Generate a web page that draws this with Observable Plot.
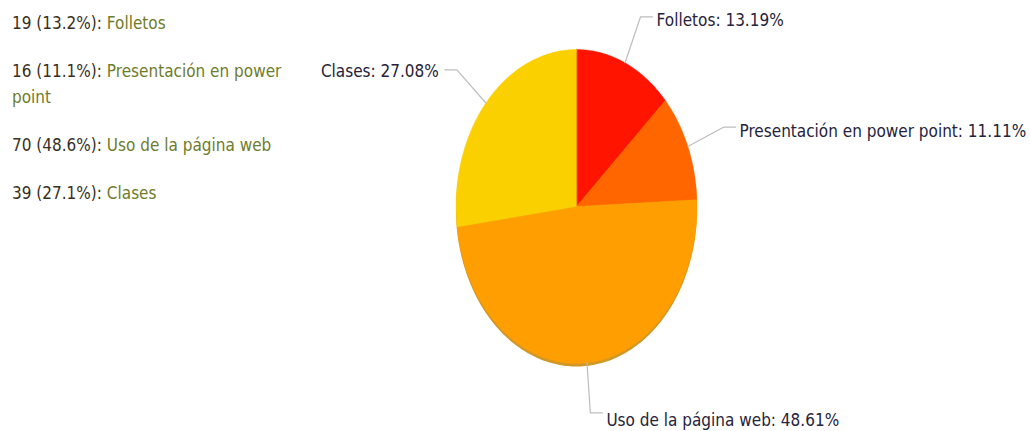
<!DOCTYPE html>
<html><head><meta charset="utf-8">
<script src="https://cdn.jsdelivr.net/npm/d3@7"></script>
<script src="https://cdn.jsdelivr.net/npm/@observablehq/plot@0.6"></script>
<style>
body{margin:0;background:#fff;}
#wrap{position:relative;width:1030px;height:431px;overflow:hidden;}
#legend{position:absolute;left:12px;top:10px;width:290px;font-family:"DejaVu Sans Condensed","DejaVu Sans",sans-serif;font-size:17px;line-height:26px;}
.item{margin-bottom:22px;}
.num{color:#3a2f1c;}
.name{color:#6f7c2a;}
</style></head><body>
<div id="wrap"><div id="chart"></div><div id="legend"></div></div>
<script>
const categories = ["Folletos", "Presentación en power point", "Uso de la página web", "Clases"];
const counts = [19, 16, 70, 39];
const colors = ["#ff1400", "#ff6600", "#ff9e00", "#fbd000"];

const total = d3.sum(counts);
const pct2 = d3.format(".2f"), pct1 = d3.format(".1f");

// legend (HTML)
const legend = document.getElementById("legend");
categories.forEach((c, i) => {
  const div = document.createElement("div");
  div.className = "item";
  div.innerHTML = `<span class="num">${counts[i]} (${pct1(counts[i] / total * 100)}%):</span> <span class="name">${c}</span>`;
  legend.appendChild(div);
});

const arcs = d3.pie().sort(null)(counts);
const slicePts = [];
const rimPts = [];
const leaderPts = [];
const labels = [];
arcs.forEach((a, i) => {
  const name = categories[i];
  slicePts.push({name, x: 0, y: 0});
  const n = Math.max(2, Math.ceil((a.endAngle - a.startAngle) / 0.01));
  for (let k = 0; k <= n; k++) {
    const t = a.startAngle + (a.endAngle - a.startAngle) * k / n;
    slicePts.push({name, x: Math.sin(t), y: -Math.cos(t)});
  }
  const m = (a.startAngle + a.endAngle) / 2;
  const sx = Math.sin(m), sy = -Math.cos(m);
  const side = sx >= 0 ? 1 : -1;
  const k = 1.32;
  leaderPts.push({name, x: sx, y: sy});
  leaderPts.push({name, x: sx * k, y: sy * k});
  leaderPts.push({name, x: sx * k + side * 0.1, y: sy * k});
  labels.push({name, x: sx * k + side * 0.1, y: sy * k, side, lower: sy > 0.5,
    text: `${name}: ${pct2(counts[i] / total * 100)}%`});
});
for (let k = 0; k <= 360; k++) {
  const t = k * Math.PI / 180;
  rimPts.push({x: Math.sin(t), y: -Math.cos(t)});
}

const font = '"DejaVu Sans Condensed","DejaVu Sans",sans-serif';
const chart = Plot.plot({
  width: 1030,
  height: 431,
  x: {domain: [-1, 1], range: [455.5, 696.5], axis: null},
  y: {domain: [-1, 1], range: [49, 363], axis: null},
  color: {domain: categories, range: colors},
  style: {fontFamily: font, background: "#fff"},
  marks: [
    Plot.line(rimPts, {x: "x", y: "y", curve: "linear-closed", fill: "#c98600", stroke: "none", dy: 3, opacity: 0.85}),
    Plot.line(slicePts, {x: "x", y: "y", z: "name", fill: "name", stroke: "name", strokeWidth: 0.4, curve: "linear-closed"}),
    Plot.line(leaderPts, {x: "x", y: "y", z: "name", stroke: "#bdbdbd", strokeWidth: 1.2, curve: "linear"}),
    Plot.text(labels.filter(d => d.side > 0 && !d.lower), {x: "x", y: "y", text: "text", textAnchor: "start", lineAnchor: "middle", dx: 4, dy: 4, fontSize: 17, fill: "#26233a"}),
    Plot.text(labels.filter(d => d.side < 0 && !d.lower), {x: "x", y: "y", text: "text", textAnchor: "end", lineAnchor: "middle", dx: -6, dy: 2, fontSize: 17, fill: "#26233a"}),
    Plot.text(labels.filter(d => d.lower), {x: "x", y: "y", text: "text", textAnchor: "start", lineAnchor: "top", dx: 4, dy: 1, fontSize: 17, fill: "#26233a"})
  ]
});
document.getElementById("chart").appendChild(chart);
</script>
</body></html>
